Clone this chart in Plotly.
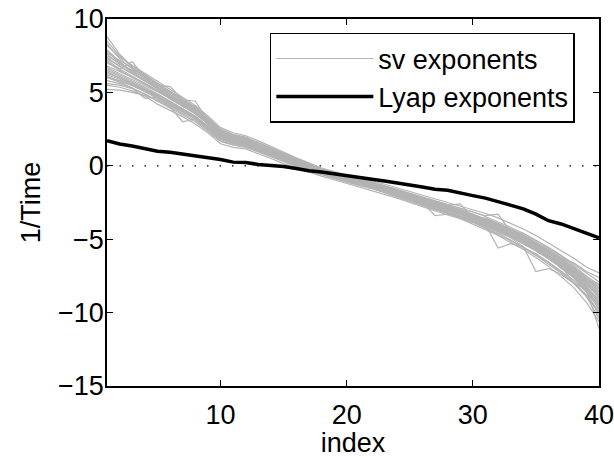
import plotly.graph_objects as go

index = list(range(1, 41))

lyap = [1.71, 1.49, 1.35, 1.17, 0.99, 0.92, 0.81, 0.68, 0.54, 0.43,
        0.25, 0.22, 0.09, 0.05, -0.05, -0.18, -0.34, -0.43, -0.56, -0.72,
        -0.83, -0.92, -1.04, -1.15, -1.31, -1.44, -1.60, -1.67, -1.82, -2.03,
        -2.20, -2.43, -2.68, -2.93, -3.29, -3.74, -3.96, -4.28, -4.64, -4.91]

sv01 = [8.2, 7.4, 6.85, 6.3, 5.8, 5.2, 4.7, 4.1, 3.4, 2.6, 2.25, 2.05, 1.7, 1.3, 0.95, 0.55, 0.2, -0.15, -0.4, -0.65,
        -0.85, -1.0, -1.25, -1.45, -1.7, -2.0, -2.2, -2.45, -2.7, -2.95, -3.25, -3.55, -3.9, -4.3, -4.75, -5.25, -5.8, -6.3, -6.9, -7.3]
sv02 = [5.5, 5.35, 5.1, 4.75, 4.2, 3.8, 3.35, 2.85, 2.25, 1.5, 1.25, 1.15, 0.85, 0.5, 0.15, -0.15, -0.4, -0.7, -0.95, -1.2,
        -1.4, -1.65, -1.9, -2.2, -2.5, -2.8, -3.1, -3.35, -3.6, -3.95, -4.35, -4.75, -5.2, -5.7, -6.25, -6.85, -7.55, -8.3, -9.3, -10.6]
sv03 = [7.6, 6.9, 6.5, 6.2, 5.5, 5.4, 4.5, 4.4, 3.1, 2.35, 2.0, 1.8, 1.45, 1.05, 0.7, 0.35, 0.0, -0.3, -0.55, -0.8,
        -1.0, -1.2, -1.45, -1.7, -1.95, -2.25, -2.5, -2.75, -3.0, -3.3, -3.6, -3.95, -4.35, -4.75, -5.25, -5.8, -6.35, -7.0, -7.7, -8.4]
sv04 = [6.3, 6.0, 5.6, 5.2, 4.8, 4.0, 3.0, 3.2, 2.5, 1.85, 1.55, 1.4, 1.05, 0.75, 0.4, 0.05, -0.25, -0.5, -0.75, -1.0,
        -1.2, -1.4, -1.65, -1.95, -2.25, -2.55, -2.8, -3.05, -3.35, -3.6, -3.95, -4.35, -4.8, -5.25, -5.75, -6.3, -6.95, -7.65, -8.5, -9.5]
sv05 = [8.8, 7.6, 6.7, 6.0, 5.3, 4.7, 4.2, 3.7, 3.0, 2.15, 1.9, 1.7, 1.35, 1.0, 0.6, 0.25, -0.1, -0.35, -0.6, -0.85,
        -1.05, -1.25, -1.5, -1.75, -2.05, -2.35, -2.6, -2.85, -3.1, -3.4, -3.75, -4.1, -4.5, -4.95, -5.45, -6.0, -6.6, -7.25, -8.0, -8.8]
sv06 = [5.2, 5.15, 5.0, 4.8, 4.5, 4.1, 3.7, 3.25, 2.6, 1.95, 1.7, 1.55, 1.2, 0.9, 0.55, 0.25, -0.05, -0.3, -0.55, -0.8,
        -1.0, -1.15, -1.4, -1.6, -1.9, -2.15, -2.4, -2.65, -2.85, -3.15, -3.45, -3.8, -4.2, -4.6, -5.05, -5.55, -6.1, -6.7, -7.3, -7.9]
sv07 = [7.3, 6.8, 6.3, 5.9, 5.4, 4.9, 4.4, 3.85, 3.15, 2.4, 2.05, 1.9, 1.55, 1.15, 0.8, 0.45, 0.1, -0.25, -0.5, -0.75,
        -0.95, -1.15, -1.4, -1.65, -1.9, -2.2, -2.45, -2.7, -2.6, -3.6, -3.55, -3.9, -4.3, -4.7, -5.2, -5.7, -6.25, -6.9, -7.6, -8.2]
sv08 = [6.0, 5.7, 5.3, 4.9, 4.45, 4.0, 3.55, 3.1, 2.45, 1.7, 1.45, 1.3, 1.0, 0.65, 0.3, 0.0, -0.3, -0.6, -0.85, -1.1,
        -1.3, -1.5, -1.8, -2.05, -2.35, -2.65, -2.9, -3.15, -3.45, -3.75, -4.1, -4.5, -4.9, -5.5, -7.2, -7.0, -7.4, -8.0, -8.9, -10.0]
sv09 = [7.0, 6.6, 7.1, 6.0, 5.6, 4.8, 4.3, 3.7, 2.95, 2.2, 1.85, 1.65, 1.3, 0.95, 0.6, 0.2, -0.1, -0.4, -0.7, -0.95,
        -1.15, -1.35, -1.6, -1.85, -2.15, -2.45, -2.7, -2.95, -3.25, -3.55, -3.9, -4.25, -4.65, -5.1, -5.55, -6.1, -6.7, -7.4, -8.2, -9.2]
sv10 = [6.5, 6.1, 5.7, 5.3, 4.85, 4.35, 3.85, 3.35, 2.65, 1.95, 1.65, 1.5, 1.15, 0.8, 0.45, 0.1, -0.2, -0.5, -0.75, -1.0,
        -1.2, -1.4, -1.65, -1.9, -2.2, -2.5, -2.75, -3.0, -3.3, -3.6, -3.95, -4.3, -4.7, -5.15, -5.65, -6.2, -6.8, -8.0, -8.4, -11.1]
sv11 = [7.9, 7.1, 6.4, 5.8, 5.2, 4.65, 4.15, 3.65, 2.9, 2.15, 1.85, 1.7, 1.4, 1.05, 0.7, 0.3, 0.0, -0.3, -0.55, -0.85,
        -1.05, -1.25, -1.5, -1.75, -2.0, -2.3, -2.55, -2.8, -3.05, -3.35, -3.7, -4.0, -4.4, -4.85, -5.35, -5.9, -6.45, -7.1, -7.8, -8.6]
sv12 = [6.1, 5.8, 5.45, 5.05, 4.6, 4.15, 3.7, 3.2, 2.55, 1.8, 1.5, 1.35, 1.0, 0.7, 0.35, 0.0, -0.3, -0.55, -0.8, -1.05,
        -1.25, -1.5, -1.75, -2.05, -2.35, -2.65, -2.95, -3.2, -3.45, -3.75, -4.0, -5.6, -5.3, -5.55, -6.0, -6.55, -7.15, -7.8, -8.6, -9.7]
sv13 = [6.7, 6.3, 5.9, 5.5, 5.05, 4.6, 4.1, 4.1, 2.8, 2.1, 1.8, 1.6, 1.25, 0.9, 0.55, 0.2, -0.1, -0.4, -0.65, -0.9,
        -1.1, -1.3, -1.55, -1.8, -2.1, -2.4, -2.65, -2.9, -3.2, -3.5, -3.8, -4.2, -4.6, -5.05, -5.5, -6.1, -6.65, -7.3, -8.0, -9.0]
sv14 = [7.2, 6.6, 6.1, 5.65, 5.15, 4.65, 4.15, 3.6, 2.9, 2.15, 1.8, 1.65, 1.3, 0.95, 0.6, 0.25, -0.05, -0.35, -0.6, -0.85,
        -1.05, -1.25, -1.5, -1.75, -2.05, -2.3, -2.55, -2.8, -3.05, -3.35, -3.65, -4.0, -4.4, -4.8, -5.3, -5.8, -6.3, -6.6, -7.2, -7.6]
sv15 = [6.2, 5.9, 5.5, 5.1, 4.65, 4.2, 3.75, 3.3, 2.65, 1.9, 1.6, 1.45, 1.1, 0.8, 0.45, 0.1, -0.2, -0.45, -0.7, -0.95,
        -1.15, -1.4, -1.65, -1.9, -2.2, -2.5, -3.4, -3.3, -3.5, -3.8, -4.1, -4.45, -4.85, -5.3, -5.8, -6.35, -6.9, -7.6, -8.3, -9.3]
sv16 = [7.5, 7.0, 6.5, 6.0, 5.45, 4.95, 4.45, 3.9, 3.2, 2.45, 2.1, 1.9, 1.55, 1.2, 0.85, 0.5, 0.15, -0.2, -0.45, -0.7,
        -0.9, -1.1, -1.35, -1.6, -1.85, -2.1, -2.35, -2.6, -2.85, -3.1, -3.4, -3.3, -4.5, -4.6, -5.1, -5.6, -6.15, -6.8, -7.5, -8.1]
sv17 = [6.6, 6.2, 5.8, 5.35, 4.9, 4.4, 3.9, 3.4, 2.7, 2.0, 1.7, 1.55, 1.2, 0.85, 0.5, 0.15, -0.15, -0.45, -0.7, -0.95,
        -1.15, -1.35, -1.6, -1.85, -2.15, -2.45, -2.7, -2.95, -3.2, -3.5, -3.85, -4.2, -4.65, -5.1, -5.6, -6.2, -6.85, -7.6, -8.6, -10.2]
sv18 = [8.3, 7.3, 6.6, 6.1, 5.6, 5.05, 4.5, 3.95, 3.25, 2.25, 1.95, 1.75, 1.4, 1.0, 0.65, 0.3, -0.05, -0.35, -0.6, -0.85,
        -1.05, -1.25, -1.45, -1.7, -2.0, -2.3, -2.55, -2.85, -3.1, -3.4, -3.7, -4.05, -4.45, -4.9, -5.35, -5.9, -6.5, -7.15, -7.9, -8.0]
sv19 = [8.5, 7.5, 6.8, 6.2, 5.6, 5.0, 4.45, 3.9, 3.15, 2.35, 2.0, 1.8, 1.45, 1.1, 0.7, 0.35, 0.0, -0.3, -0.6, -0.9,
        -1.15, -1.4, -1.7, -2.0, -2.3, -2.6, -2.9, -3.2, -3.5, -3.85, -4.25, -4.65, -5.1, -5.6, -6.1, -6.7, -7.3, -8.0, -8.9, -10.4]
sv20 = [5.8, 5.6, 5.3, 4.6, 4.7, 4.3, 3.8, 3.3, 2.6, 1.9, 1.6, 1.45, 1.15, 0.8, 0.45, 0.1, -0.2, -0.45, -0.7, -0.95,
        -1.15, -1.35, -1.6, -1.85, -2.15, -2.45, -2.7, -2.95, -3.25, -3.55, -3.9, -4.25, -4.65, -5.1, -5.6, -6.15, -6.75, -7.4, -8.1, -8.9]
sv21 = [7.1, 6.5, 6.0, 5.55, 5.1, 4.55, 4.05, 3.55, 2.85, 2.1, 1.8, 1.6, 1.25, 0.9, 0.55, 0.2, -0.1, -0.4, -0.65, -0.9,
        -1.1, -1.3, -1.55, -1.8, -2.1, -2.4, -2.65, -2.9, -3.15, -3.45, -3.8, -4.15, -4.55, -5.0, -5.5, -5.7, -7.0, -7.3, -8.2, -9.4]
sv22 = [7.7, 7.2, 6.7, 6.15, 5.6, 5.1, 4.55, 4.0, 3.3, 2.5, 2.15, 1.95, 1.6, 1.2, 0.85, 0.45, 0.1, -0.2, -0.5, -0.75,
        -0.95, -1.2, -1.45, -1.7, -1.95, -2.25, -2.5, -2.75, -3.0, -3.3, -3.6, -3.95, -4.35, -4.8, -5.25, -5.75, -6.35, -7.0, -7.7, -8.5]
sv23 = [6.4, 5.95, 5.55, 5.15, 4.7, 4.25, 3.8, 3.3, 2.6, 1.85, 1.55, 1.4, 1.1, 0.75, 0.4, 0.05, -0.25, -0.55, -0.8, -1.05,
        -1.25, -1.45, -1.7, -2.0, -2.3, -2.6, -2.85, -3.1, -3.4, -3.7, -4.05, -4.4, -4.8, -5.25, -5.75, -6.3, -6.9, -7.55, -8.3, -9.1]
sv24 = [6.8, 6.45, 6.05, 5.6, 5.1, 4.6, 4.05, 3.55, 2.85, 2.05, 1.75, 1.6, 1.25, 0.9, 0.5, 0.15, -0.15, -0.4, -0.65, -0.9,
        -1.1, -1.3, -1.55, -1.85, -2.1, -2.4, -2.7, -2.95, -3.2, -3.5, -3.85, -4.2, -4.6, -5.05, -5.55, -6.1, -6.7, -7.45, -8.3, -9.6]
sv25 = [7.4, 6.75, 6.25, 5.75, 5.25, 4.75, 4.25, 3.75, 3.0, 2.25, 1.9, 1.7, 1.35, 1.0, 0.65, 0.3, 0.0, -0.3, -0.55, -0.8,
        -1.0, -1.2, -1.45, -1.7, -2.0, -2.7, -2.65, -2.85, -3.1, -3.4, -3.75, -4.1, -4.5, -4.95, -5.4, -5.95, -6.55, -7.2, -7.9, -8.7]
sv26 = [5.6, 5.5, 5.25, 4.9, 4.4, 3.95, 3.5, 3.0, 2.35, 1.65, 1.4, 1.25, 0.95, 0.6, 0.25, -0.05, -0.35, -0.6, -0.9, -1.15,
        -1.35, -1.55, -1.85, -2.1, -2.4, -2.7, -3.0, -3.25, -3.5, -3.85, -4.2, -4.6, -5.05, -5.55, -6.05, -6.6, -7.25, -7.95, -8.8, -9.9]
sv27 = [7.8, 7.0, 6.35, 5.85, 5.3, 4.8, 4.3, 3.8, 3.05, 2.3, 2.0, 1.8, 1.45, 1.1, 0.75, 0.4, 0.05, -0.25, -0.5, -0.75,
        -0.95, -1.2, -1.45, -1.7, -1.95, -2.25, -2.5, -2.75, -3.0, -3.3, -3.65, -4.0, -4.4, -4.85, -5.35, -5.85, -6.4, -7.0, -7.65, -8.3]
sv28 = [6.0, 5.8, 5.5, 5.15, 4.75, 4.3, 3.85, 3.35, 2.7, 2.0, 1.7, 1.5, 1.15, 0.8, 0.45, 0.1, -0.2, -0.5, -0.75, -1.0,
        -1.2, -1.45, -1.7, -1.95, -2.25, -2.55, -2.85, -3.1, -3.4, -3.7, -4.0, -4.35, -4.75, -5.2, -5.7, -6.25, -6.85, -7.5, -8.4, -9.8]

sv_series = [sv01, sv02, sv03, sv04, sv05, sv06, sv07, sv08, sv09, sv10,
             sv11, sv12, sv13, sv14, sv15, sv16, sv17, sv18, sv19, sv20,
             sv21, sv22, sv23, sv24, sv25, sv26, sv27, sv28]

x_ticks = [10, 20, 30, 40]
y_ticks = [-15, -10, -5, 0, 5, 10]

FONT = "Liberation Sans, Arial, Helvetica, sans-serif"
GRAY = "#b3b3b3"

fig = go.Figure()
for i, s in enumerate(sv_series):
    fig.add_trace(go.Scatter(
        x=index, y=s, mode="lines",
        line=dict(color=GRAY, width=1.2),
        name="sv exponents", legendgroup="sv",
        showlegend=(i == 0), hoverinfo="skip"))

fig.add_trace(go.Scatter(
    x=index, y=lyap, mode="lines",
    line=dict(color="black", width=3.5),
    name="Lyap exponents", showlegend=True))

fig.add_hline(y=0, line=dict(color="black", width=1.2, dash="1.5px,11px"), layer="below")

axis_common = dict(
    showline=True, linecolor="black", linewidth=1.5, mirror="allticks",
    ticks="inside", ticklen=6, tickwidth=1, tickcolor="black",
    showgrid=False, zeroline=False, automargin=False,
    ticklabeloverflow="allow",
    tickfont=dict(family=FONT, size=27, color="black"),
)

fig.update_xaxes(range=[1, 40], tickvals=x_ticks, ticklabelstandoff=4,
                 title=dict(text="index", font=dict(family=FONT, size=27, color="black"), standoff=13),
                 **axis_common)
fig.update_yaxes(range=[-15, 10], tickvals=y_ticks, ticklabelstandoff=-4,
                 title=dict(text="1/Time", font=dict(family=FONT, size=27, color="black"), standoff=10),
                 **axis_common)

fig.update_layout(
    width=614, height=458,
    margin=dict(l=107, r=15, t=19, b=72),
    paper_bgcolor="white", plot_bgcolor="white",
    font=dict(family=FONT, size=27, color="black"),
    showlegend=True,
    legend=dict(
        x=0.331, y=0.962, xanchor="left", yanchor="top",
        bgcolor="white", bordercolor="black", borderwidth=1.5,
        font=dict(family=FONT, size=27, color="black"),
        itemwidth=97, tracegroupgap=0,
    ),
)

# remove the default page margin so the figure fills the 614x458 window exactly
fig.write_html(
    "out.html",
    config={"displayModeBar": False},
    post_script="document.body.style.margin='0';document.body.style.overflow='hidden';",
)
